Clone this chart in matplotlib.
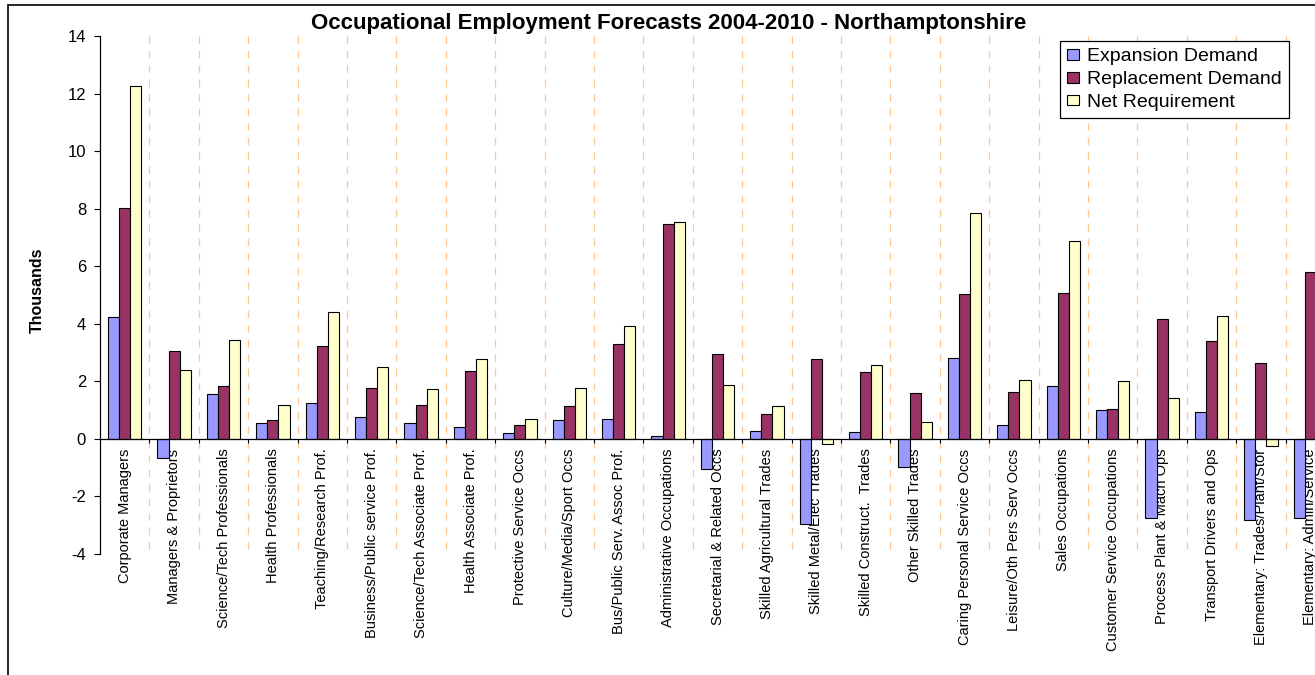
import numpy as np
import matplotlib
matplotlib.use('Agg')
import matplotlib.pyplot as plt
from matplotlib.patches import Rectangle

plt.rcParams['font.family'] = ['Liberation Sans', 'DejaVu Sans']
plt.rcParams['lines.scale_dashes'] = False
plt.rcParams['axes.unicode_minus'] = False

# Datos (miles)
categorias = [
    'Corporate Managers', 'Managers & Proprietors', 'Science/Tech Professionals',
    'Health Professionals', 'Teaching/Research Prof.', 'Business/Public service Prof.',
    'Science/Tech Associate Prof.', 'Health Associate Prof.', 'Protective Service Occs',
    'Culture/Media/Sport Occs', 'Bus/Public Serv. Assoc Prof.', 'Administrative Occupations',
    'Secretarial & Related Occs', 'Skilled Agricultural Trades', 'Skilled Metal/Elec Trades',
    'Skilled Construct.  Trades', 'Other Skilled Trades', 'Caring Personal Service Occs',
    'Leisure/Oth Pers Serv Occs', 'Sales Occupations', 'Customer Service Occupations',
    'Process Plant & Mach Ops', 'Transport Drivers and Ops', 'Elementary: Trades/Plant/Stor',
    'Elementary: Admin/Service',
]
expansion = [4.23, -0.67, 1.56, 0.55, 1.23, 0.76, 0.55, 0.40, 0.21, 0.66, 0.69, 0.10, -1.04,
             0.29, -2.97, 0.24, -0.96, 2.81, 0.47, 1.85, 1.01, -2.75, 0.92, -2.83, -2.75]
reemplazo = [8.03, 3.05, 1.84, 0.65, 3.23, 1.78, 1.19, 2.36, 0.48, 1.15, 3.29, 7.46, 2.95,
             0.86, 2.78, 2.32, 1.59, 5.03, 1.64, 5.06, 1.05, 4.17, 3.40, 2.65, 5.80]
neto = [12.27, 2.39, 3.44, 1.19, 4.41, 2.51, 1.72, 2.78, 0.69, 1.78, 3.94, 7.54, 1.87,
        1.15, -0.17, 2.58, 0.60, 7.84, 2.05, 6.89, 2.01, 1.43, 4.27, -0.24, 3.05]
series = ['Expansion Demand', 'Replacement Demand', 'Net Requirement']
colores = ['#9999FF', '#993366', '#FFFFCC']

W, H = 1315, 675
fig = plt.figure(figsize=(W / 100, H / 100), dpi=100)
# el área de trazado se sale por la derecha (como en la imagen original)
ax = fig.add_axes([100 / W, 1 - 554 / H, 1235 / W, 518 / H])
ax.spines['bottom'].set_position(('data', 0))
ax.spines['top'].set_visible(False)
ax.spines['right'].set_visible(False)
ax.spines['bottom'].set_linewidth(0.9)
ax.spines['left'].set_linewidth(0.9)
ax.spines['bottom'].set_zorder(4)

n = len(categorias)
x = np.arange(n)
w = 0.225
for i, (vals, nombre, col) in enumerate(zip([expansion, reemplazo, neto], series, colores)):
    ax.bar(x + (i - 1) * w, vals, w, color=col, edgecolor='black', linewidth=0.8,
           label=nombre, zorder=3)

# líneas de división entre categorías
ax.vlines(np.arange(0.5, n, 1), 14, -4, colors='#FFC78F', linestyles=(0, (5.4, 5)),
          linewidth=0.9, zorder=1)

ax.set_xlim(-0.5, n - 0.5)
ax.set_ylim(-4, 14)
ax.set_yticks(np.arange(-4, 15, 2))
ax.tick_params(axis='y', labelsize=12, length=4, width=0.8, pad=6)

ax.set_xticks(x)
ax.set_xticklabels(categorias)
ax.set_xticks(np.arange(0.5, n, 1), minor=True)
ax.tick_params(axis='x', which='major', length=0, pad=7, labelrotation=90, labelsize=10.5)
ax.tick_params(axis='x', which='minor', length=3, width=0.8, direction='out')

fig.text(669 / W, 1 - 24 / H, 'Occupational Employment Forecasts 2004-2010 - Northamptonshire',
         ha='center', va='center', fontsize=16, fontweight='bold')
fig.text(37 / W, 1 - 290 / H, 'Thousands', rotation=90, ha='center', va='center',
         fontsize=11.5, fontweight='bold')

leg = ax.legend(loc='upper left', bbox_to_anchor=(1060 / W, 1 - 41 / H),
                bbox_transform=fig.transFigure, borderaxespad=0, fontsize=14,
                fancybox=False, edgecolor='black', framealpha=1,
                handlelength=0.6, handleheight=0.45, handletextpad=0.4,
                borderpad=0.38, labelspacing=0.3)
leg.get_frame().set_linewidth(0.9)

# borde del área del gráfico
fig.patches.append(Rectangle((8 / W, -0.1), 1.5, 1.1 - 5 / H, transform=fig.transFigure,
                             fill=False, edgecolor='black', linewidth=1.2))

fig.savefig('out.png', dpi=100)
